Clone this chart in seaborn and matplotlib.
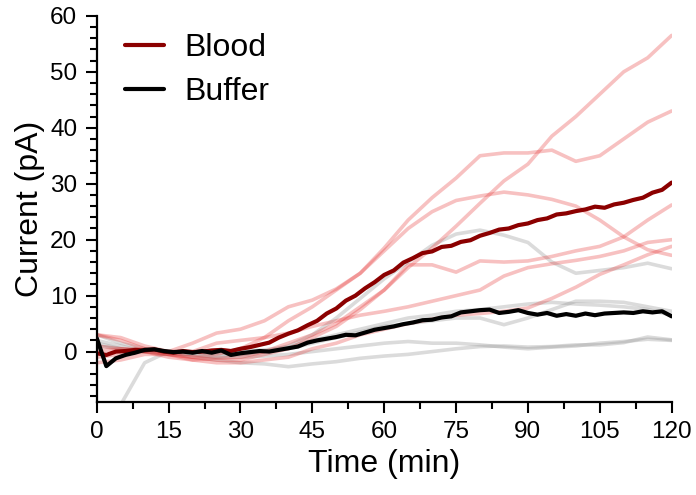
import matplotlib
matplotlib.use("Agg")
import matplotlib.pyplot as plt
import seaborn as sns
from matplotlib.ticker import MultipleLocator

# individual recordings, sampled every 5 min
trace_time = list(range(0, 121, 5))

blood_1 = [1.0, 0.5, 0.0, -1.0, -1.5, -1.2, -1.0, 0.0, 1.5, 3.0, 5.0, 8.0, 11.0,
           15.0, 18.5, 22.4, 26.5, 30.5, 33.5, 38.5, 42.0, 46.0, 50.0, 52.5, 56.5]
blood_2 = [3.0, 2.0, 0.5, 0.0, 1.5, 3.3, 4.0, 5.5, 8.0, 9.2, 11.2, 14.0, 18.5,
           23.5, 27.5, 31.0, 35.0, 35.5, 35.5, 36.0, 34.0, 35.0, 38.0, 41.0, 43.0]
blood_3 = [-1.0, -0.5, 0.0, -0.5, -1.0, -0.5, 0.5, 2.5, 5.5, 8.0, 11.0, 14.0, 18.0,
           22.0, 25.0, 27.0, 27.8, 28.5, 28.0, 27.2, 26.0, 23.5, 20.5, 18.2, 17.2]
blood_4 = [0.0, 0.5, 0.5, -0.5, -1.0, -1.5, -1.5, -0.5, 0.5, 2.5, 4.5, 7.5, 11.0,
           15.5, 15.5, 14.2, 16.2, 16.0, 16.2, 17.0, 18.0, 18.8, 20.5, 23.5, 26.2]
blood_5 = [3.0, 2.5, 1.0, 0.0, 0.0, 1.5, 2.0, 2.5, 3.3, 4.5, 5.5, 6.5, 7.2,
           8.0, 9.0, 10.0, 11.0, 13.5, 15.0, 15.7, 16.3, 17.0, 18.0, 19.5, 20.0]
blood_6 = [-2.0, -1.5, -0.5, -0.5, -1.5, -2.0, -2.0, -1.5, -1.0, 0.5, 1.5, 3.0, 4.0,
           5.0, 5.8, 6.5, 6.8, 7.2, 7.8, 9.5, 11.5, 13.8, 15.5, 17.3, 18.8]

buffer_1 = [1.0, 0.5, 0.0, -0.5, -0.5, -1.0, -0.5, 0.0, 1.0, 3.0, 6.0, 9.5, 13.0,
            16.0, 19.0, 21.0, 21.7, 20.8, 19.5, 16.0, 14.0, 14.5, 15.0, 15.8, 14.8]
buffer_2 = [float("nan"), -9.5, -2.0, 0.0, 0.0, -0.3, -0.5, 0.0, 0.5, 1.5, 2.5, 3.5, 4.5,
            5.0, 5.5, 6.0, 6.0, 4.8, 6.0, 7.5, 9.0, 9.0, 8.8, 8.0, 7.2]
buffer_3 = [3.0, 1.5, 0.5, 0.0, -1.0, -1.5, -2.0, -2.2, -2.7, -2.2, -1.8, -1.2, -0.8,
            -0.5, 0.0, 0.5, 0.9, 1.0, 0.8, 0.9, 1.2, 1.2, 1.6, 2.6, 2.1]
buffer_4 = [2.0, 1.0, 0.0, -0.5, -0.5, -1.0, -1.0, -0.8, -0.5, 0.0, 0.5, 1.0, 1.5,
            1.8, 1.5, 1.5, 1.2, 0.8, 0.5, 0.8, 1.0, 1.5, 1.8, 2.2, 2.0]
buffer_5 = [1.5, 0.5, 0.0, 0.0, 0.0, -0.3, 0.0, 0.3, 0.8, 2.0, 3.0, 4.0, 5.0,
            6.0, 6.5, 7.2, 7.5, 8.0, 8.5, 8.8, 8.5, 8.3, 8.0, 7.5, 6.5]

# averages, sampled every 2 min
mean_time = list(range(0, 121, 2))
blood_mean = [-0.3, -0.6, 0.0, 0.1, 0.3, 0.2, 0.4, 0.0, -0.2, 0.1,
              -0.1, 0.0, 0.2, 0.3, 0.1, 0.5, 0.8, 1.2, 1.6, 2.5,
              3.2, 3.8, 4.7, 5.5, 6.8, 7.7, 9.1, 10.0, 11.3, 12.4,
              13.7, 14.5, 15.9, 16.7, 17.6, 17.9, 18.7, 18.9, 19.6, 19.9,
              20.7, 21.2, 21.8, 22.0, 22.6, 22.9, 23.5, 23.8, 24.5, 24.7,
              25.1, 25.4, 25.9, 25.7, 26.3, 26.6, 27.1, 27.5, 28.4, 28.9,
              30.2]
buffer_mean = [2.4, -2.6, -1.2, -0.6, -0.2, 0.3, 0.4, 0.1, -0.1, 0.0,
               -0.2, 0.1, -0.2, 0.2, -0.6, -0.3, -0.1, 0.1, 0.0, 0.3,
               0.6, 0.9, 1.6, 2.0, 2.3, 2.6, 3.0, 2.9, 3.4, 3.9,
               4.2, 4.5, 4.9, 5.2, 5.6, 5.7, 6.1, 6.3, 7.0, 7.2,
               7.4, 7.5, 6.9, 7.1, 7.4, 6.9, 6.6, 6.9, 6.4, 6.7,
               6.4, 6.8, 6.5, 6.8, 6.9, 7.0, 6.9, 7.2, 7.0, 7.2,
               6.3]

sns.set_theme(style="ticks")
plt.rcParams["font.family"] = ["Liberation Sans", "DejaVu Sans"]
plt.rcParams.update({"text.color": "black", "axes.labelcolor": "black",
                     "xtick.color": "black", "ytick.color": "black"})

fig, ax = plt.subplots(figsize=(6.96, 4.95), dpi=100)
fig.subplots_adjust(left=0.139, right=0.965, top=0.968, bottom=0.188)

for vals in [buffer_1, buffer_2, buffer_3, buffer_4, buffer_5]:
    sns.lineplot(x=trace_time, y=vals, estimator=None, color=(0.6, 0.6, 0.6),
                 alpha=0.35, lw=2.6, ax=ax)
for vals in [blood_1, blood_2, blood_3, blood_4, blood_5, blood_6]:
    sns.lineplot(x=trace_time, y=vals, estimator=None, color=(0.9, 0.2, 0.2),
                 alpha=0.3, lw=2.6, ax=ax)

sns.lineplot(x=mean_time, y=blood_mean, estimator=None, color="#8b0000", lw=3,
             label="Blood", ax=ax)
sns.lineplot(x=mean_time, y=buffer_mean, estimator=None, color="black", lw=3,
             label="Buffer", ax=ax)

ax.set_xlim(0, 120)
ax.set_ylim(-9, 60)
ax.xaxis.set_major_locator(MultipleLocator(15))
ax.xaxis.set_minor_locator(MultipleLocator(7.5))
ax.yaxis.set_major_locator(MultipleLocator(10))
ax.yaxis.set_minor_locator(MultipleLocator(2))
ax.set_yticks(range(0, 61, 10))
ax.tick_params(which="major", length=8, width=1.5, labelsize=17.5, pad=6)
ax.tick_params(which="minor", length=5, width=1.5)
for side in ["left", "bottom"]:
    ax.spines[side].set_linewidth(1.6)
    ax.spines[side].set_color("black")
sns.despine(ax=ax)

ax.set_xlabel("Time (min)", fontsize=23, labelpad=4)
ax.set_ylabel("Current (pA)", fontsize=23, labelpad=4)

ax.legend(loc="upper left", bbox_to_anchor=(0.0, 1.03), frameon=False, fontsize=23,
          handlelength=1.2, handletextpad=0.65, labelspacing=0.45)

fig.savefig("out.png", dpi=100)
